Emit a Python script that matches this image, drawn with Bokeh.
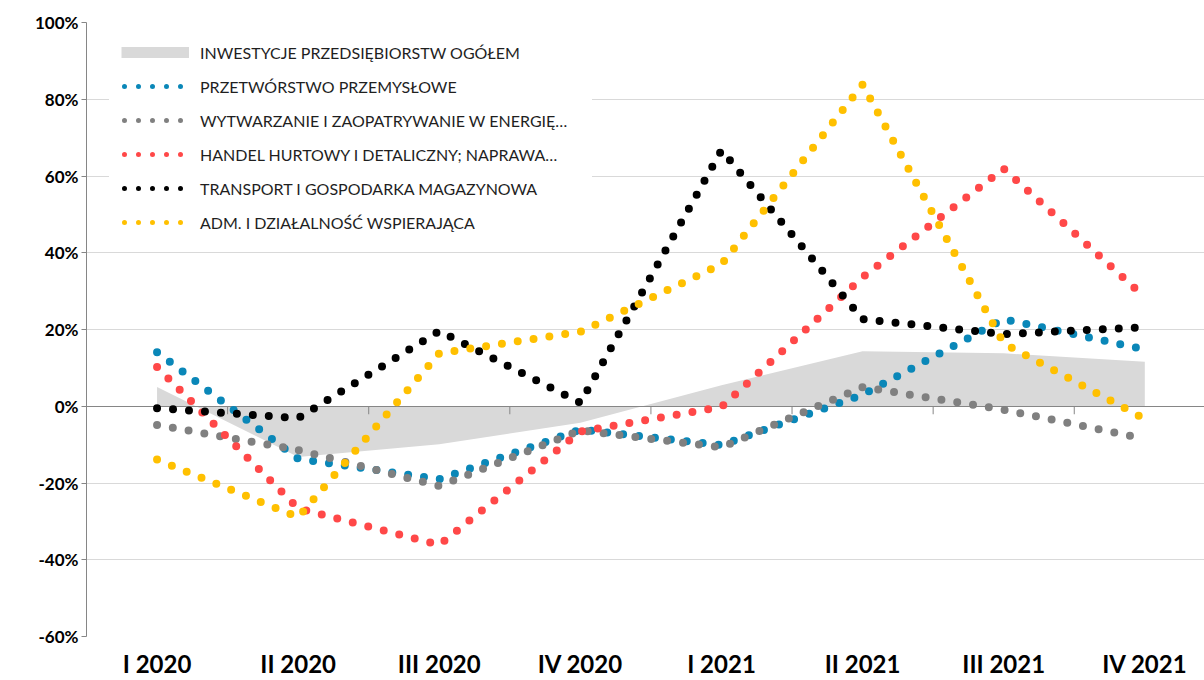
import numpy as np
from bokeh.plotting import figure
from bokeh.models import Range1d, FixedTicker, Legend, LegendItem
from bokeh.embed import file_html
from bokeh.resources import INLINE

# ---------------- data (values in %) ----------------
categories = ["I 2020", "II 2020", "III 2020", "IV 2020",
              "I 2021", "II 2021", "III 2021", "IV 2021"]
inwestycje = [5.0, -13.2, -9.9, -4.3, 5.5, 14.3, 13.8, 11.6]
przetworstwo = [14.1, -13.7, -19.0, -6.1, -10.1, 3.0, 22.7, 14.8]
wytwarzanie = [-4.9, -11.4, -20.8, -6.3, -10.7, 5.0, -0.9, -8.5]
handel = [10.2, -26.6, -36.1, -6.6, -0.2, 33.6, 61.9, 28.4]
transport = [-0.5, -3.1, 19.6, 0.9, 66.7, 22.7, 18.8, 20.6]
adm = [-13.9, -28.9, 13.8, 19.4, 37.0, 83.8, 16.4, -3.3]
y_ticks = [-60, -40, -20, 0, 20, 40, 60, 80, 100]

label_area = "INWESTYCJE PRZEDSIĘBIORSTW OGÓŁEM"
series = [
    ("PRZETWÓRSTWO PRZEMYSŁOWE", przetworstwo, "#0a87b8"),
    ("WYTWARZANIE I ZAOPATRYWANIE W ENERGIĘ…", wytwarzanie, "#808080"),
    ("HANDEL HURTOWY I DETALICZNY; NAPRAWA…", handel, "#ff4848"),
    ("TRANSPORT I GOSPODARKA MAGAZYNOWA", transport, "#000000"),
    ("ADM. I DZIAŁALNOŚĆ WSPIERAJĄCA", adm, "#ffc000"),
]

xs = list(range(len(categories)))
FONT = "Lato"

p = figure(width=1204, height=680,
           x_range=Range1d(-0.5, 7.423), y_range=Range1d(-60, 100),
           output_backend="svg", toolbar_location=None,
           min_border_left=86, min_border_right=0,
           min_border_top=22, min_border_bottom=44)
p.outline_line_color = None
p.background_fill_color = "white"
p.border_fill_color = "white"

# grid
p.xgrid.visible = False
p.ygrid.ticker = FixedTicker(ticks=y_ticks)
p.ygrid.grid_line_color = "#d9d9d9"
p.ygrid.grid_line_width = 1

# y axis
p.yaxis.ticker = FixedTicker(ticks=y_ticks)
p.yaxis.major_label_overrides = {v: f"{v}%" for v in y_ticks}
p.yaxis.axis_line_color = "#868686"
p.yaxis.major_tick_line_color = "#868686"
p.yaxis.major_tick_out = 5
p.yaxis.major_tick_in = 0
p.yaxis.minor_tick_line_color = None
p.yaxis.major_label_standoff = 3
p.yaxis.major_label_text_font = FONT
p.yaxis.major_label_text_font_style = "bold"
p.yaxis.major_label_text_font_size = "17px"
p.yaxis.major_label_text_color = "#000000"

# x axis (category labels)
p.xaxis.ticker = FixedTicker(ticks=xs)
p.xaxis.major_label_overrides = {i: c for i, c in enumerate(categories)}
p.xaxis.axis_line_color = None
p.xaxis.major_tick_line_color = None
p.xaxis.minor_tick_line_color = None
p.xaxis.major_label_standoff = 6
p.xaxis.major_label_text_font = FONT
p.xaxis.major_label_text_font_style = "bold"
p.xaxis.major_label_text_font_size = "24px"
p.xaxis.major_label_text_color = "#000000"

# total investment area
p.varea(x=xs, y1=0, y2=inwestycje, fill_color="#d9d9d9", fill_alpha=1.0)

# zero line with category boundary ticks
p.hspan(y=[0], line_color="#868686", line_width=1)
boundaries = [i + 0.5 for i in xs]
p.ray(x=boundaries, y=0, length=8, length_units="screen", angle=-np.pi / 2,
      line_color="#868686", line_width=1)

# dotted series (round-dot lines)
for name, vals, col in series:
    p.line(x=xs, y=vals, line_color=col, line_width=8,
           line_dash="0 16", line_cap="round", line_join="round")

# legend (proxy renderers for legend symbols)
items = []
r_area = p.line(x=[np.nan, np.nan], y=[np.nan, np.nan],
                line_color="#d9d9d9", line_width=11)
items.append(LegendItem(label=label_area, renderers=[r_area]))
for name, vals, col in series:
    r = p.line(x=[np.nan, np.nan], y=[np.nan, np.nan], line_color=col,
               line_width=5, line_dash="0 14", line_dash_offset=11,
               line_cap="round")
    items.append(LegendItem(label=name, renderers=[r]))

legend = Legend(items=items, location=(23, 392))
legend.label_text_font = FONT
legend.label_text_font_size = "16px"
legend.label_text_color = "#1f1f1f"
legend.glyph_width = 68
legend.glyph_height = 20
legend.label_height = 20
legend.label_width = 380
legend.label_standoff = 11
legend.spacing = 14
legend.padding = 0
legend.margin = 0
legend.border_line_color = "white"
legend.border_line_width = 12
legend.background_fill_color = "white"
legend.background_fill_alpha = 1.0
p.add_layout(legend)

open("out.html", "w").write(file_html(p, INLINE, title="Inwestycje"))
